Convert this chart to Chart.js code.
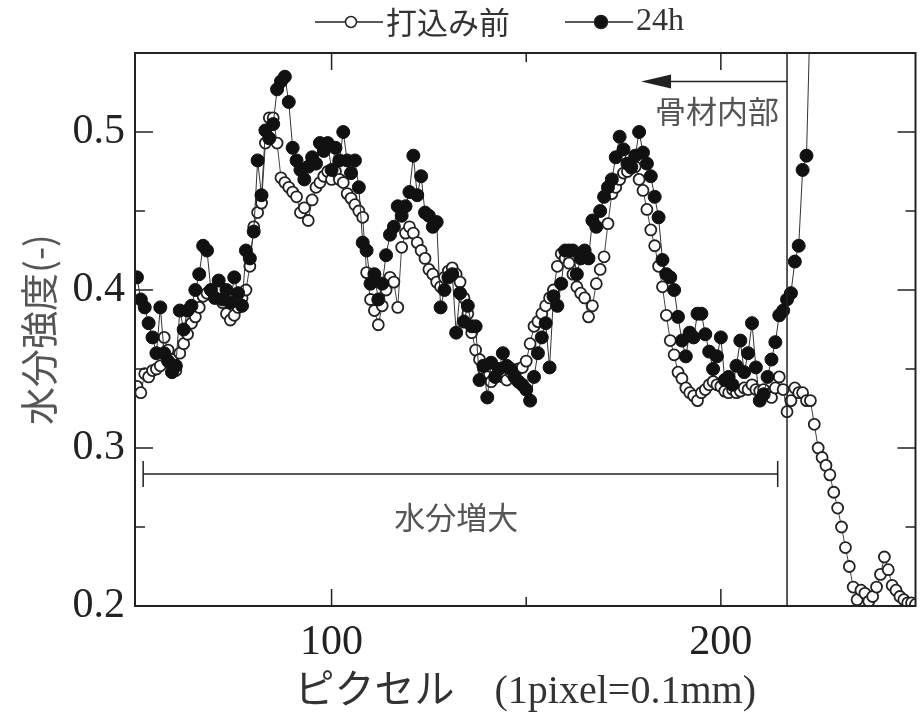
<!DOCTYPE html>
<html>
<head>
<meta charset="utf-8">
<script src="https://cdn.jsdelivr.net/npm/chart.js@4"></script>
<style>
  html, body { margin: 0; padding: 0; background: #fff; }
  #wrap { width: 923px; height: 718px; }
</style>
</head>
<body>
<div id="wrap"><canvas id="myChart" width="923" height="718"></canvas></div>
<script>
// pixel index of the first sample in both profiles
const pixelStart = 50;

// 打込み前 (before casting), pixel 50 .. 250
const beforeValues = [
  0.339, 0.335, 0.347, 0.345, 0.349, 0.350, 0.352, 0.370, 0.362, 0.356,
  0.349, 0.360, 0.366, 0.372, 0.379, 0.383, 0.389, 0.396, 0.398, 0.400,
  0.395, 0.400, 0.392, 0.385, 0.381, 0.384, 0.389, 0.395, 0.400, 0.415,
  0.440, 0.449, 0.455, 0.493, 0.509, 0.509, 0.493, 0.471, 0.468, 0.465,
  0.462, 0.459, 0.449, 0.452, 0.444, 0.457, 0.465, 0.468, 0.472, 0.475,
  0.470, 0.475, 0.470, 0.468, 0.461, 0.458, 0.454, 0.450, 0.446, 0.411,
  0.394, 0.387, 0.378, 0.390, 0.400, 0.408, 0.405, 0.389, 0.427, 0.436,
  0.440, 0.436, 0.430, 0.425, 0.420, 0.413, 0.410, 0.405, 0.402, 0.408,
  0.412, 0.414, 0.410, 0.405, 0.395, 0.385, 0.373, 0.362, 0.356, 0.350,
  0.345, 0.342, 0.345, 0.347, 0.345, 0.343, 0.348, 0.345, 0.350, 0.351,
  0.355, 0.366, 0.377, 0.380, 0.385, 0.390, 0.395, 0.400, 0.415, 0.423,
  0.420, 0.417, 0.410, 0.402, 0.398, 0.395, 0.383, 0.390, 0.404, 0.413,
  0.421, 0.442, 0.461, 0.465, 0.470, 0.474, 0.475, 0.477, 0.478, 0.470,
  0.463, 0.451, 0.438, 0.428, 0.415, 0.402, 0.384, 0.368, 0.359, 0.348,
  0.344, 0.338, 0.335, 0.333, 0.330, 0.335, 0.337, 0.340, 0.342, 0.340,
  0.339, 0.336, 0.335, 0.337, 0.335, 0.336, 0.338, 0.337, 0.340, 0.337,
  0.336, 0.337, 0.334, 0.332, 0.338, 0.345, 0.337, 0.323, 0.330, 0.338,
  0.335, 0.335, 0.330, 0.330, 0.315, 0.300, 0.294, 0.289, 0.283, 0.272,
  0.262, 0.250, 0.237, 0.225, 0.212, 0.204, 0.210, 0.208, 0.203, 0.206,
  0.212, 0.220, 0.231, 0.223, 0.213, 0.210, 0.206, 0.204, 0.202, 0.202,
  0.201
];

// 24h, pixel 50 .. 223 (last sample leaves the plot at the top)
const after24hValues = [
  0.408, 0.394, 0.389, 0.379, 0.370, 0.360, 0.389, 0.360, 0.355, 0.348,
  0.352, 0.387, 0.375, 0.387, 0.390, 0.400, 0.410, 0.428, 0.425, 0.400,
  0.395, 0.406, 0.394, 0.400, 0.392, 0.408, 0.398, 0.390, 0.425, 0.420,
  0.437, 0.482, 0.460, 0.501, 0.496, 0.505, 0.527, 0.532, 0.535, 0.519,
  0.490, 0.482, 0.476, 0.470, 0.478, 0.484, 0.480, 0.493, 0.488, 0.493,
  0.476, 0.490, 0.482, 0.500, 0.482, 0.474, 0.482, 0.465, 0.430, 0.425,
  0.404, 0.410, 0.394, 0.404, 0.422, 0.435, 0.440, 0.453, 0.447, 0.453,
  0.462, 0.485, 0.460, 0.472, 0.449, 0.447, 0.440, 0.443, 0.389, 0.400,
  0.408, 0.410, 0.373, 0.398, 0.380, 0.390, 0.377, 0.377, 0.343, 0.352,
  0.332, 0.354, 0.345, 0.350, 0.360, 0.352, 0.350, 0.345, 0.342, 0.340,
  0.337, 0.330, 0.345, 0.360, 0.370, 0.379, 0.351, 0.396, 0.390, 0.404,
  0.425, 0.425, 0.425, 0.410, 0.420, 0.425, 0.420, 0.444, 0.440, 0.450,
  0.459, 0.465, 0.470, 0.484, 0.497, 0.489, 0.480, 0.478, 0.485, 0.500,
  0.487, 0.480, 0.472, 0.459, 0.446, 0.419, 0.410, 0.408, 0.400, 0.383,
  0.368, 0.358, 0.373, 0.370, 0.385, 0.385, 0.372, 0.361, 0.350, 0.358,
  0.370, 0.343, 0.345, 0.340, 0.352, 0.368, 0.348, 0.360, 0.379, 0.351,
  0.330, 0.334, 0.345, 0.356, 0.367, 0.384, 0.387, 0.394, 0.398, 0.418,
  0.428, 0.476, 0.485, 0.580
];

const seriesNames = ['打込み前', '24h'];
const xTickValues = [100, 200];
const xMinorTicks = [150];
const yTickValues = [0.2, 0.3, 0.4, 0.5];
const yMinorTicks = [0.25, 0.35, 0.45];

// annotations (data units)
const boundaryPixel = 217;
const arrowTip = { x: 179.5, y: 0.532 };
const arrowLabel = { text: '骨材内部', x: 199, y: 0.513 };
const bracket = { from: 51.6, to: 214.6, y: 0.2835 };
const bracketLabel = { text: '水分増大', x: 132, y: 0.256 };

const toPoints = vals => vals.map((v, i) => ({ x: pixelStart + i, y: v }));

const frameAndNotes = {
  id: 'frameAndNotes',
  afterDatasetsDraw(chart) {
    const { ctx, chartArea: a, scales: { x, y } } = chart;
    ctx.save();
    ctx.strokeStyle = '#222';
    ctx.fillStyle = '#222';

    // boundary line
    ctx.lineWidth = 1.5;
    const bx = x.getPixelForValue(boundaryPixel);
    ctx.beginPath();
    ctx.moveTo(bx, a.top);
    ctx.lineTo(bx, a.bottom);
    ctx.stroke();

    // arrow to the aggregate side
    const ay = y.getPixelForValue(arrowTip.y);
    const tip = x.getPixelForValue(arrowTip.x);
    ctx.beginPath();
    ctx.moveTo(bx, ay);
    ctx.lineTo(tip + 20, ay);
    ctx.stroke();
    ctx.beginPath();
    ctx.moveTo(tip, ay);
    ctx.lineTo(tip + 30, ay - 7);
    ctx.lineTo(tip + 30, ay + 7);
    ctx.closePath();
    ctx.fill();

    // bracket
    const by = y.getPixelForValue(bracket.y);
    const b0 = x.getPixelForValue(bracket.from);
    const b1 = x.getPixelForValue(bracket.to);
    ctx.lineWidth = 1.5;
    ctx.beginPath();
    ctx.moveTo(b0, by); ctx.lineTo(b1, by);
    ctx.moveTo(b0, by - 13); ctx.lineTo(b0, by + 13);
    ctx.moveTo(b1, by - 13); ctx.lineTo(b1, by + 13);
    ctx.stroke();

    ctx.fillStyle = '#555';
    ctx.font = '31px "Noto Sans CJK JP"';
    ctx.textAlign = 'center';
    ctx.textBaseline = 'middle';
    ctx.fillText(arrowLabel.text, x.getPixelForValue(arrowLabel.x), y.getPixelForValue(arrowLabel.y));
    ctx.fillText(bracketLabel.text, x.getPixelForValue(bracketLabel.x), y.getPixelForValue(bracketLabel.y));
    ctx.restore();
  },
  afterDraw(chart) {
    const { ctx, chartArea: a, scales: { x, y } } = chart;
    ctx.save();
    ctx.strokeStyle = '#222';
    ctx.lineWidth = 2;
    ctx.strokeRect(a.left, a.top, a.right - a.left, a.bottom - a.top);

    // inward ticks on all four sides
    ctx.lineWidth = 1.5;
    ctx.beginPath();
    const xt = (v, len) => {
      const px = x.getPixelForValue(v);
      ctx.moveTo(px, a.bottom); ctx.lineTo(px, a.bottom - len);
      ctx.moveTo(px, a.top); ctx.lineTo(px, a.top + len);
    };
    const yt = (v, len) => {
      const py = y.getPixelForValue(v);
      ctx.moveTo(a.left, py); ctx.lineTo(a.left + len, py);
      ctx.moveTo(a.right, py); ctx.lineTo(a.right - len, py);
    };
    xTickValues.forEach(v => xt(v, 17));
    xMinorTicks.forEach(v => xt(v, 9));
    yTickValues.forEach(v => yt(v, 18));
    yMinorTicks.forEach(v => yt(v, 10));
    ctx.stroke();

    // legend: line with marker in the middle, then text
    const ly = 22;
    const items = [
      { x0: 315, fill: '#fff', r: 5.5, font: '31px "Noto Sans CJK JP"' },
      { x0: 565, fill: '#111', r: 6.5, font: '32px "Liberation Serif"' }
    ];
    items.forEach((it, i) => {
      ctx.strokeStyle = '#222';
      ctx.lineWidth = 1.5;
      ctx.beginPath();
      ctx.moveTo(it.x0, ly); ctx.lineTo(it.x0 + 68, ly);
      ctx.stroke();
      ctx.beginPath();
      ctx.arc(it.x0 + 36, ly, it.r, 0, Math.PI * 2);
      ctx.fillStyle = it.fill;
      ctx.fill();
      ctx.stroke();
      ctx.fillStyle = '#333';
      ctx.font = it.font;
      ctx.textAlign = 'left';
      ctx.textBaseline = 'middle';
      ctx.fillText(seriesNames[i], it.x0 + 71, ly);
    });
    ctx.restore();
  }
};

document.addEventListener('DOMContentLoaded', () => {
  const ctx = document.getElementById('myChart').getContext('2d');

  new Chart(ctx, {
    type: 'line',
    data: {
      datasets: [{
        label: seriesNames[1],
        data: toPoints(after24hValues),
        borderColor: '#333',
        borderWidth: 1,
        pointRadius: 6.5,
        pointBackgroundColor: '#111',
        pointBorderColor: '#111',
        pointBorderWidth: 1,
        tension: 0,
        order: 0
      }, {
        label: seriesNames[0],
        data: toPoints(beforeValues),
        borderColor: '#444',
        borderWidth: 1,
        pointRadius: 5.5,
        pointBackgroundColor: '#fff',
        pointBorderColor: '#222',
        pointBorderWidth: 1.8,
        tension: 0,
        order: 1
      }]
    },
    options: {
      responsive: false,
      animation: false,
      events: [],
      layout: { padding: { top: 53, right: 6, left: 0, bottom: 0 } },
      plugins: {
        legend: { display: false },
        tooltip: { enabled: false }
      },
      scales: {
        x: {
          type: 'linear',
          min: 49.5,
          max: 250,
          afterBuildTicks: s => { s.ticks = xTickValues.map(v => ({ value: v })); },
          afterFit: s => { s.height = 112; },
          grid: { display: false, drawTicks: false },
          border: { display: false },
          ticks: {
            color: '#222',
            padding: 12,
            maxRotation: 0,
            font: { family: '"Liberation Serif"', size: 42 }
          },
          title: {
            display: true,
            text: 'ピクセル　(1pixel=0.1mm)',
            color: '#333',
            font: { family: '"Liberation Serif", "Noto Sans CJK JP"', size: 40 },
            padding: { top: 0, bottom: 2 }
          }
        },
        y: {
          min: 0.2,
          max: 0.55,
          afterBuildTicks: s => { s.ticks = yTickValues.map(v => ({ value: v })); },
          afterFit: s => { s.width = 135; },
          grid: { display: false, drawTicks: false },
          border: { display: false },
          ticks: {
            color: '#222',
            padding: 10,
            font: { family: '"Liberation Serif"', size: 42 },
            callback: v => v.toFixed(1)
          },
          title: {
            display: true,
            text: '水分強度(-)',
            color: '#555',
            font: { family: '"Noto Sans CJK JP"', size: 38 },
            padding: { top: 16, bottom: 0 }
          }
        }
      }
    },
    plugins: [frameAndNotes]
  });
});
</script>
</body>
</html>
